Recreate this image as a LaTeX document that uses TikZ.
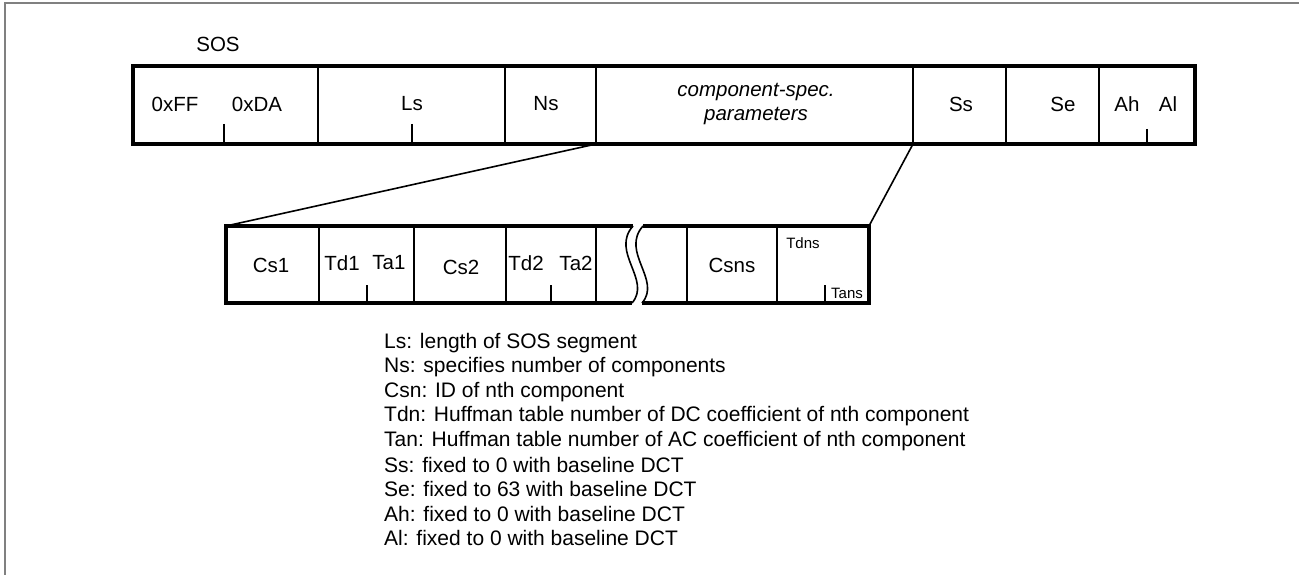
\documentclass[tikz,border=0pt]{standalone}
\usepackage{fontspec}
\setmainfont{Liberation Sans}
\begin{document}
\begin{tikzpicture}[x=1pt,y=-1pt,
  thickb/.style={line width=3.5pt,line join=miter},
  thinb/.style={line width=1.6pt},
  tickl/.style={line width=1.3pt},
  toplbl/.style={inner sep=0pt,font=\fontsize{20.5}{24}\selectfont},
  botlbl/.style={inner sep=0pt,font=\fontsize{20.5}{24}\selectfont},
  smalllbl/.style={inner sep=0pt,font=\fontsize{15}{18}\selectfont},
  legend/.style={inner sep=0pt,anchor=west,font=\fontsize{21}{24.4}\selectfont},
  conn/.style={line width=1.6pt}]
\useasboundingbox (0,0) rectangle (1299,575);
% frame
\draw[gray,line width=2pt] (5,575) -- (5,3) -- (1299,3);
% top row
\draw[thickb] (133,66) rectangle (1195,144);
\foreach \x in {318,505,596,913,1006,1099} \draw[thinb] (\x,66) -- (\x,144);
\foreach \x/\t in {224/124,412/124,1147/129} \draw[tickl] (\x,\t) -- (\x,144);
\node[toplbl] (sos) at (218,44) {SOS};
\node[toplbl] (ff) at (175,104) {0xFF};
\node[toplbl] (da) at (257,104) {0xDA};
\node[toplbl] (ls) at (412,104) {Ls};
\node[toplbl] (ns) at (546,104) {Ns};
\node[toplbl] (cs) at (756,92) {\itshape component-spec.};
\node[toplbl] (pa) at (756,116) {\itshape parameters};
\node[toplbl] (ss) at (961,104) {Ss};
\node[toplbl] (se) at (1063,104) {Se};
\node[toplbl] (ah) at (1127,104) {Ah};
\node[toplbl] (al) at (1168,104) {Al};
% bottom row
\coordinate (bTL) at (226,226);
\coordinate (bTR) at (869,226);
\coordinate (tA) at (596,144);
\coordinate (tB) at (913,144);
\draw[thickb] (633,226) -- (bTL) -- (226,303) -- (632,303);
\draw[thickb] (643,226) -- (bTR) -- (869,303) -- (642,303);
\draw[thinb] (633,226) .. controls (610,252) and (652,280) .. (632,303);
\draw[thinb] (643,226) .. controls (620,252) and (662,280) .. (642,303);
\foreach \x in {319,414,506,596,687,777} \draw[thinb] (\x,226) -- (\x,303);
\foreach \x in {367,551,825} \draw[tickl] (\x,285) -- (\x,303);
\node[botlbl] (cs1) at (271,265) {Cs1};
\node[botlbl] (td1) at (342,263) {Td1};
\node[botlbl] (ta1) at (389,263) {Ta1};
\node[botlbl] (cs2) at (461,267) {Cs2};
\node[botlbl] (td2) at (526,263) {Td2};
\node[botlbl] (ta2) at (576,263) {Ta2};
\node[botlbl] (csns) at (732,265) {Csns};
\node[smalllbl] (tdns) at (803,243) {Tdns};
\node[smalllbl] (tans) at (847,293) {Tans};
% connectors
\draw[conn] (tA) -- (bTL);
\draw[conn] (tB) -- (bTR);
% legend
\node[legend] (l1) at (384,343) {Ls: length of SOS segment};
\node[legend] (l2) at (384,367.4) {Ns: specifies number of components};
\node[legend] (l3) at (384,391.8) {Csn: ID of nth component};
\node[legend] (l4) at (384,416.2) {Tdn: Huffman table number of DC coefficient of nth component};
\node[legend] (l5) at (384,440.6) {Tan: Huffman table number of AC coefficient of nth component};
\node[legend] (l6) at (384,465) {Ss: fixed to 0 with baseline DCT};
\node[legend] (l7) at (384,489.4) {Se: fixed to 63 with baseline DCT};
\node[legend] (l8) at (384,513.8) {Ah: fixed to 0 with baseline DCT};
\node[legend] (l9) at (384,538.2) {Al: fixed to 0 with baseline DCT};
\end{tikzpicture}
\end{document}
